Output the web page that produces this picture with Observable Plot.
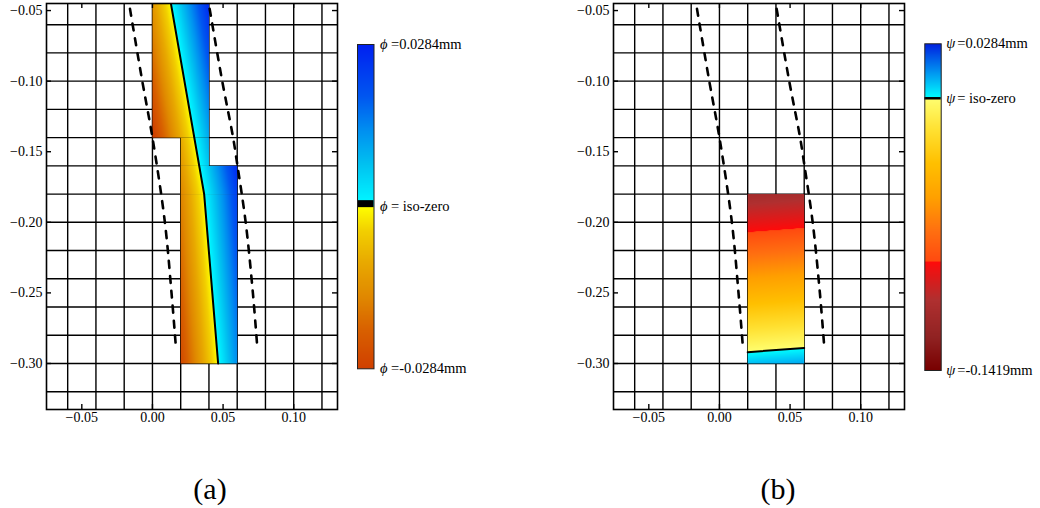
<!DOCTYPE html>
<html><head><meta charset="utf-8">
<script src="https://cdn.jsdelivr.net/npm/d3@7"></script>
<script src="https://cdn.jsdelivr.net/npm/@observablehq/plot@0.6"></script>
<style>
html,body{margin:0;padding:0;background:#fff;}
#root{position:relative;width:1040px;height:508px;overflow:hidden;font-family:"Liberation Serif",serif;background:#fff;}
#root > div{position:absolute;}
.cap{font-size:30px;line-height:30px;transform:translateX(-50%);color:#000;white-space:nowrap;}
</style></head><body><div id="root"></div>
<script>
// ---------- data ----------
const xTicks = [-0.05, 0.00, 0.05, 0.10];
const yTicks = [-0.05, -0.10, -0.15, -0.20, -0.25, -0.30];
const xGrid = [-0.06, -0.04, -0.02, 0.00, 0.02, 0.04, 0.06, 0.08, 0.10, 0.12];
const yGrid = [-0.06, -0.08, -0.10, -0.12, -0.14, -0.16, -0.18, -0.20, -0.22, -0.24, -0.26, -0.28, -0.30, -0.32];
const xDomain = [-0.075, 0.131];
const yDomain = [-0.3326, -0.045];

// dashed bounding curves (same in both panels)
const dashLeft = [
  {x: -0.0159, y: -0.0488}, {x: -0.0072, y: -0.10}, {x: 0.0000, y: -0.14},
  {x: 0.0088, y: -0.20}, {x: 0.0135, y: -0.25}, {x: 0.0167, y: -0.2896}
];
const dashRight = [
  {x: 0.0405, y: -0.0488}, {x: 0.0494, y: -0.10}, {x: 0.0571, y: -0.14},
  {x: 0.0602, y: -0.16}, {x: 0.0660, y: -0.20}, {x: 0.0711, y: -0.25}, {x: 0.0743, y: -0.2896}
];

// iso-zero lines
const isoA = [{x: 0.0122, y: -0.04}, {x: 0.0366, y: -0.18}, {x: 0.0465, y: -0.30}];
const isoB = [{x: 0.02, y: -0.292}, {x: 0.06, y: -0.289}];

// level-set patches (a)
const patchesA = [
  {id: "a1", x1: 0.00, x2: 0.04, y1: -0.14, y2: -0.04},
  {id: "a2", x1: 0.02, x2: 0.04, y1: -0.16, y2: -0.14},
  {id: "a3", x1: 0.02, x2: 0.06, y1: -0.18, y2: -0.16},
  {id: "a4", x1: 0.02, x2: 0.06, y1: -0.30, y2: -0.18}
];
const phiSamples = [
  {patch: "a1", x: 0.00, y: -0.04, v: -0.0122}, {patch: "a1", x: 0.04, y: -0.04, v: 0.0278},
  {patch: "a1", x: 0.00, y: -0.14, v: -0.0296}, {patch: "a1", x: 0.04, y: -0.14, v: 0.0104},
  {patch: "a2", x: 0.02, y: -0.14, v: -0.0096}, {patch: "a2", x: 0.04, y: -0.14, v: 0.0104},
  {patch: "a2", x: 0.02, y: -0.16, v: -0.0131}, {patch: "a2", x: 0.04, y: -0.16, v: 0.0069},
  {patch: "a3", x: 0.02, y: -0.16, v: -0.0131}, {patch: "a3", x: 0.06, y: -0.16, v: 0.0269},
  {patch: "a3", x: 0.02, y: -0.18, v: -0.0166}, {patch: "a3", x: 0.06, y: -0.18, v: 0.0234},
  {patch: "a4", x: 0.02, y: -0.18, v: -0.0166}, {patch: "a4", x: 0.06, y: -0.18, v: 0.0234},
  {patch: "a4", x: 0.02, y: -0.30, v: -0.0265}, {patch: "a4", x: 0.06, y: -0.30, v: 0.0135}
];
// level-set patch (b)
const patchesB = [{id: "b1", x1: 0.02, x2: 0.06, y1: -0.30, y2: -0.18}];
const psiSamples = [
  {patch: "b1", x: 0.02, y: -0.18, v: -0.112}, {patch: "b1", x: 0.06, y: -0.18, v: -0.109},
  {patch: "b1", x: 0.02, y: -0.30, v: 0.008}, {patch: "b1", x: 0.06, y: -0.30, v: 0.011}
];

// colour maps
const phiStops = [-0.0284, -0.0217, -0.0159, -0.0100, -0.0042, -1e-6, 1e-6, 0.0016, 0.0076, 0.0133, 0.0191, 0.0284];
const phiColors = ["#d04000", "#d86000", "#e08800", "#e8a800", "#f2d000", "#ffff00", "#00ffff", "#00f0ff", "#00c0f0", "#0090f0", "#0058f0", "#0020f0"];
const psiStops = [-0.1419, -0.125, -0.105, -0.0851, -0.0849, -0.069, -0.052, -0.034, -0.017, -1e-6, 1e-6, 0.014, 0.0284];
const psiColors = ["#780000", "#902222", "#b03030", "#ff0a0a", "#ff4a10", "#ff7010", "#ffa000", "#ffc000", "#ffe030", "#ffff70", "#00ffff", "#0090f0", "#0020e0"];

const phiLabels = [
  {v: 0.0284, sym: "\u03D5", rest: "=0.0284mm"},
  {v: 0, sym: "\u03D5", rest: "= iso-zero"},
  {v: -0.0284, sym: "\u03D5", rest: "=-0.0284mm"}
];
const psiLabels = [
  {v: 0.0284, sym: "\u03C8", rest: "=0.0284mm"},
  {v: 0, sym: "\u03C8", rest: "= iso-zero"},
  {v: -0.1419, sym: "\u03C8", rest: "=-0.1419mm"}
];
const captions = ["(a)", "(b)"];

// ---------- drawing ----------
const fmt = d => (d < 0 ? "\u2212" : "") + Math.abs(d).toFixed(2);
const baseStyle = {fontFamily: "'Liberation Serif', serif", fontSize: "14px", background: "transparent", color: "black", overflow: "visible"};

function panel(patches, samples, iso, stops, colors) {
  const W = 345, H = 440, mL = 46, mR = 8, mT = 3, mB = 31;
  const fW = W - mL - mR, fH = H - mT - mB;
  const tk = 5;
  return Plot.plot({
    width: W, height: H, marginLeft: mL, marginRight: mR, marginTop: mT, marginBottom: mB,
    x: {domain: xDomain, label: null},
    y: {domain: yDomain, label: null},
    color: {type: "linear", domain: stops, range: colors, interpolate: "rgb", clamp: true},
    style: baseStyle,
    marks: [
      Plot.ruleX(xGrid, {stroke: "black", strokeWidth: 1.4}),
      Plot.ruleY(yGrid, {stroke: "black", strokeWidth: 1.4}),
      ...patches.map(p => Plot.raster(samples.filter(s => s.patch === p.id), {
        x: "x", y: "y", fill: "v", interpolate: "barycentric",
        x1: p.x1, x2: p.x2, y1: p.y1, y2: p.y2, clip: true
      })),
      Plot.ruleX(xTicks, {stroke: "black", strokeWidth: 1.4, insetTop: fH - tk}),
      Plot.ruleX(xTicks, {stroke: "black", strokeWidth: 1.4, insetBottom: fH - tk}),
      Plot.ruleY(yTicks, {stroke: "black", strokeWidth: 1.4, insetRight: fW - tk}),
      Plot.ruleY(yTicks, {stroke: "black", strokeWidth: 1.4, insetLeft: fW - tk}),
      Plot.line(dashLeft, {x: "x", y: "y", stroke: "black", strokeWidth: 2.6, strokeDasharray: "7,8", curve: "catmull-rom", clip: true}),
      Plot.line(dashRight, {x: "x", y: "y", stroke: "black", strokeWidth: 2.6, strokeDasharray: "7,8", curve: "catmull-rom", clip: true}),
      Plot.line(iso, {x: "x", y: "y", stroke: "black", strokeWidth: 2, clip: true}),
      Plot.frame({stroke: "black", strokeWidth: 1.6}),
      Plot.axisX({ticks: xTicks, tickSize: 0, tickPadding: 3, tickFormat: fmt, fontSize: 14, label: null}),
      Plot.axisY({ticks: yTicks, tickSize: 0, tickPadding: 4, tickFormat: fmt, fontSize: 14, label: null})
    ]
  });
}

function colorbar(stops, colors, labels, geo, zeroW, zeroDy) {
  const lo = stops[0], hi = stops[stops.length - 1];
  return Plot.plot({
    width: geo.W, height: geo.H, marginLeft: geo.mL, marginRight: geo.W - geo.mL - geo.bw,
    marginTop: geo.mT, marginBottom: geo.H - geo.mT - geo.bh,
    x: {domain: [0, 1], axis: null},
    y: {domain: [lo, hi], axis: null},
    color: {type: "linear", domain: stops, range: colors, interpolate: "rgb", clamp: true},
    style: baseStyle,
    marks: [
      Plot.raster({x1: 0, x2: 1, y1: lo, y2: hi, fill: (x, y) => y}),
      Plot.ruleY([0], {stroke: "black", strokeWidth: zeroW, dy: zeroDy}),
      Plot.frame({stroke: "#222", strokeWidth: 1}),
      Plot.text(labels, {x: 1, y: "v", text: "sym", fontStyle: "italic", textAnchor: "start", dx: geo.dxSym, fontSize: 14.5}),
      Plot.text(labels, {x: 1, y: "v", text: "rest", textAnchor: "start", dx: geo.dxRest, fontSize: 14.5})
    ]
  });
}

const root = document.getElementById("root");
function place(el, left, top) {
  const d = document.createElement("div");
  d.style.left = left + "px"; d.style.top = top + "px";
  d.appendChild(el); root.appendChild(d); return d;
}

place(panel(patchesA, phiSamples, isoA, phiStops, phiColors), 0, 0);
place(panel(patchesB, psiSamples, isoB, psiStops, psiColors), 567, 0);
place(colorbar(phiStops, phiColors, phiLabels, {W: 200, H: 420, mL: 17, bw: 16.5, mT: 44, bh: 324.3, dxSym: 6, dxRest: 17}, 7, -3), 340, 0);
place(colorbar(psiStops, psiColors, psiLabels, {W: 135, H: 420, mL: 19.3, bw: 16.4, mT: 43.3, bh: 326.7, dxSym: 5, dxRest: 16}, 2.5, 0), 905, 0);

const capX = [210, 778];
captions.forEach((c, i) => {
  const d = document.createElement("div");
  d.className = "cap";
  d.textContent = c;
  d.style.left = capX[i] + "px";
  d.style.top = "474px";
  root.appendChild(d);
});
</script></body></html>
